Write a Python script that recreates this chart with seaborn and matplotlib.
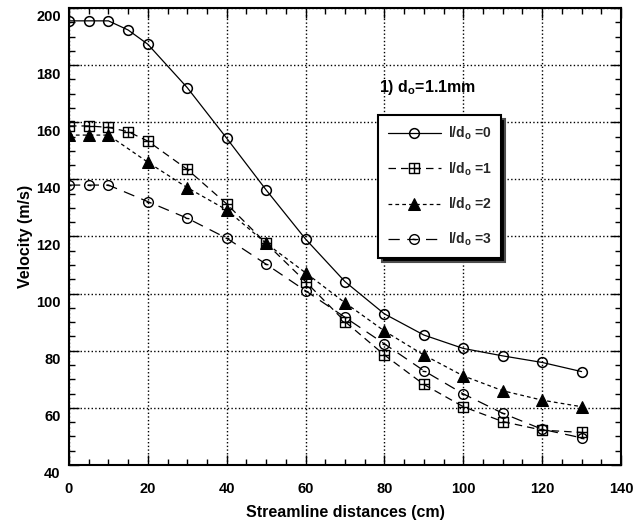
import numpy as np
import matplotlib
matplotlib.use("Agg")
import matplotlib.pyplot as plt
import seaborn as sns
from matplotlib.path import Path
from matplotlib.transforms import ScaledTranslation

# data
x0 = [0, 5, 10, 15, 20, 30, 40, 50, 60, 70, 80, 90, 100, 110, 120, 130]
v0 = [195.5, 195.5, 195.5, 192.3, 187.3, 172.1, 154.4, 136.3, 119.1, 104.2, 92.9, 85.5, 80.8, 78.2, 75.9, 72.7]

x1 = [0, 5, 10, 15, 20, 30, 40, 50, 60, 70, 80, 90, 100, 110, 120, 130]
v1 = [158.7, 158.7, 158.2, 156.7, 153.4, 143.5, 131.4, 117.6, 104.2, 90.2, 78.5, 68.2, 60.4, 55.2, 52.2, 51.4]

x2 = [0, 5, 10, 20, 30, 40, 50, 60, 70, 80, 90, 100, 110, 120, 130]
v2 = [155.5, 155.5, 155.5, 146.0, 137.1, 129.3, 117.6, 107.3, 96.8, 86.9, 78.5, 71.2, 66.0, 62.7, 60.4]

x3 = [0, 5, 10, 20, 30, 40, 50, 60, 70, 80, 90, 100, 110, 120, 130]
v3 = [138.0, 138.0, 138.0, 132.2, 126.4, 119.4, 110.3, 101.0, 91.7, 82.4, 73.0, 64.9, 58.1, 52.5, 49.5]

labels = [r"l/d$_\mathbf{o}$ =0", r"l/d$_\mathbf{o}$ =1", r"l/d$_\mathbf{o}$ =2", r"l/d$_\mathbf{o}$ =3"]

# custom markers: square with cross, circle with dash
sq = Path([[-1, -1], [1, -1], [1, 1], [-1, 1], [-1, -1], [0, -1], [0, 1], [-1, 0], [1, 0]],
          [Path.MOVETO, Path.LINETO, Path.LINETO, Path.LINETO, Path.CLOSEPOLY,
           Path.MOVETO, Path.LINETO, Path.MOVETO, Path.LINETO])
circ_dash = Path.make_compound_path(Path.unit_circle(),
                                    Path([[-0.4, 0.05], [0.4, -0.05]], [Path.MOVETO, Path.LINETO]))

sns.set_theme(style="ticks")
plt.rcParams["font.family"] = ["Liberation Sans", "DejaVu Sans"]
plt.rcParams["mathtext.fontset"] = "custom"
plt.rcParams["mathtext.bf"] = "Liberation Sans:bold"
plt.rcParams["mathtext.rm"] = "Liberation Sans:bold"

fig = plt.figure(figsize=(6.34, 5.26), dpi=100)
ax = fig.add_axes([0.1088, 0.116, 0.8707, 0.8688])

lw = 0.9
sns.lineplot(x=x0, y=v0, ax=ax, color="black", linewidth=lw, linestyle="-",
             marker="o", markersize=7, markerfacecolor="none", markeredgecolor="black",
             markeredgewidth=1.1, label=labels[0])
sns.lineplot(x=x1, y=v1, ax=ax, color="black", linewidth=lw, linestyle=(0, (6, 4)),
             marker=sq, markersize=7, markerfacecolor="none", markeredgecolor="black",
             markeredgewidth=1.0, label=labels[1])
sns.lineplot(x=x2, y=v2, ax=ax, color="black", linewidth=lw, linestyle=(0, (3, 2.5)),
             marker="^", markersize=8, markerfacecolor="black", markeredgecolor="black",
             label=labels[2])
sns.lineplot(x=x3, y=v3, ax=ax, color="black", linewidth=lw, linestyle=(0, (9, 6)),
             marker=circ_dash, markersize=7, markerfacecolor="none", markeredgecolor="black",
             markeredgewidth=1.0, label=labels[3])

ax.set_xlim(0, 140)
ax.set_ylim(40, 200)
ax.set_xticks(np.arange(0, 141, 20))
ax.set_yticks(np.arange(40, 201, 20))
ax.set_xticks(np.arange(0, 141, 5), minor=True)
ax.set_yticks(np.arange(40, 201, 5), minor=True)
ax.grid(True, which="major", linestyle=":", color="black", linewidth=1.0)

ax.tick_params(which="both", direction="in", top=True, right=True, color="black", width=1.0)
ax.tick_params(which="major", length=7)
ax.tick_params(which="minor", length=4)
ax.tick_params(axis="x", which="major", pad=12)
ax.tick_params(axis="y", which="major", pad=6)
for s in ax.spines.values():
    s.set_linewidth(1.5)
    s.set_color("black")

for lab in ax.get_xticklabels() + ax.get_yticklabels():
    lab.set_fontweight("bold")
    lab.set_fontsize(10.5)
    lab.set_color("black")
# y tick labels sit a bit below their ticks in the original
off = ScaledTranslation(0, -8 / 100, fig.dpi_scale_trans)
for lab in ax.get_yticklabels():
    lab.set_transform(lab.get_transform() + off)

ax.set_xlabel("Streamline distances (cm)", fontsize=11.5, fontweight="bold", color="black", labelpad=7)
ax.set_ylabel("Velocity (m/s)", fontsize=11.5, fontweight="bold", color="black", labelpad=2)

ax.text(78.5, 172.3, r"1) d$_\mathbf{o}$=1.1mm", fontsize=11.5, fontweight="bold",
        color="black", va="center", ha="left")

leg = ax.legend(loc="upper left", bbox_to_anchor=(0.56, 0.766), borderaxespad=0,
                fancybox=False, framealpha=1, edgecolor="black", fontsize=10,
                handlelength=3.8, labelspacing=1.3, borderpad=0.7, handletextpad=0.5,
                shadow={"ox": 3, "oy": -3, "facecolor": "black", "alpha": 1})
leg.get_frame().set_linewidth(1.5)
for t in leg.get_texts():
    t.set_fontweight("bold")

fig.savefig("out.png", dpi=100)
